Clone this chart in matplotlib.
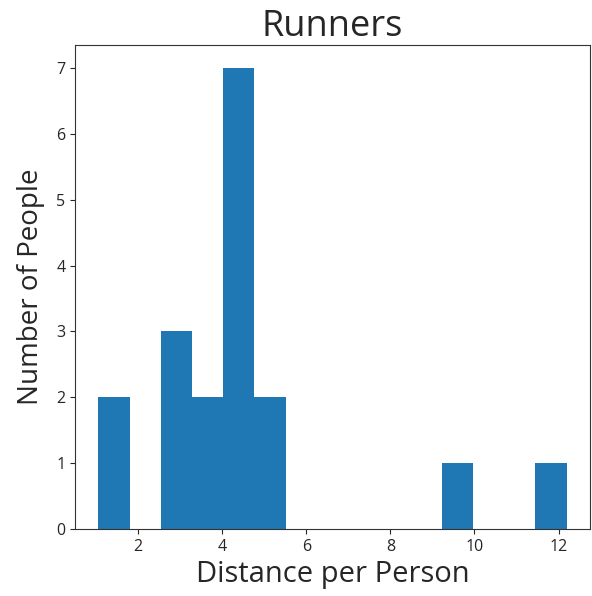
import matplotlib
matplotlib.use("Agg")
import matplotlib.pyplot as plt

distances = [1.06, 1.5,
             2.7, 3.0, 3.2,
             3.5, 3.9,
             4.1, 4.2, 4.3, 4.4, 4.5, 4.6, 4.7,
             5.0, 5.4,
             9.5,
             12.19]
n_bins = 15

plt.rcParams['font.family'] = ['Open Sans', 'DejaVu Sans']
txt = "#262626"
fig = plt.figure(figsize=(5.92, 5.96), dpi=100)
ax = fig.add_axes([75/592, 1-529/596, (590-75)/592, (529-45)/596])
ax.hist(distances, bins=n_bins, color="#1f77b4")
ax.set_title("Runners", fontsize=26, color=txt, pad=5)
ax.set_xlabel("Distance per Person", fontsize=21, color=txt, labelpad=4)
ax.set_ylabel("Number of People", fontsize=20, color=txt, labelpad=8)
ax.tick_params(labelsize=11.5, colors=txt)
for s in ax.spines.values():
    s.set_color("#333333")
fig.savefig("out.png", dpi=100)
